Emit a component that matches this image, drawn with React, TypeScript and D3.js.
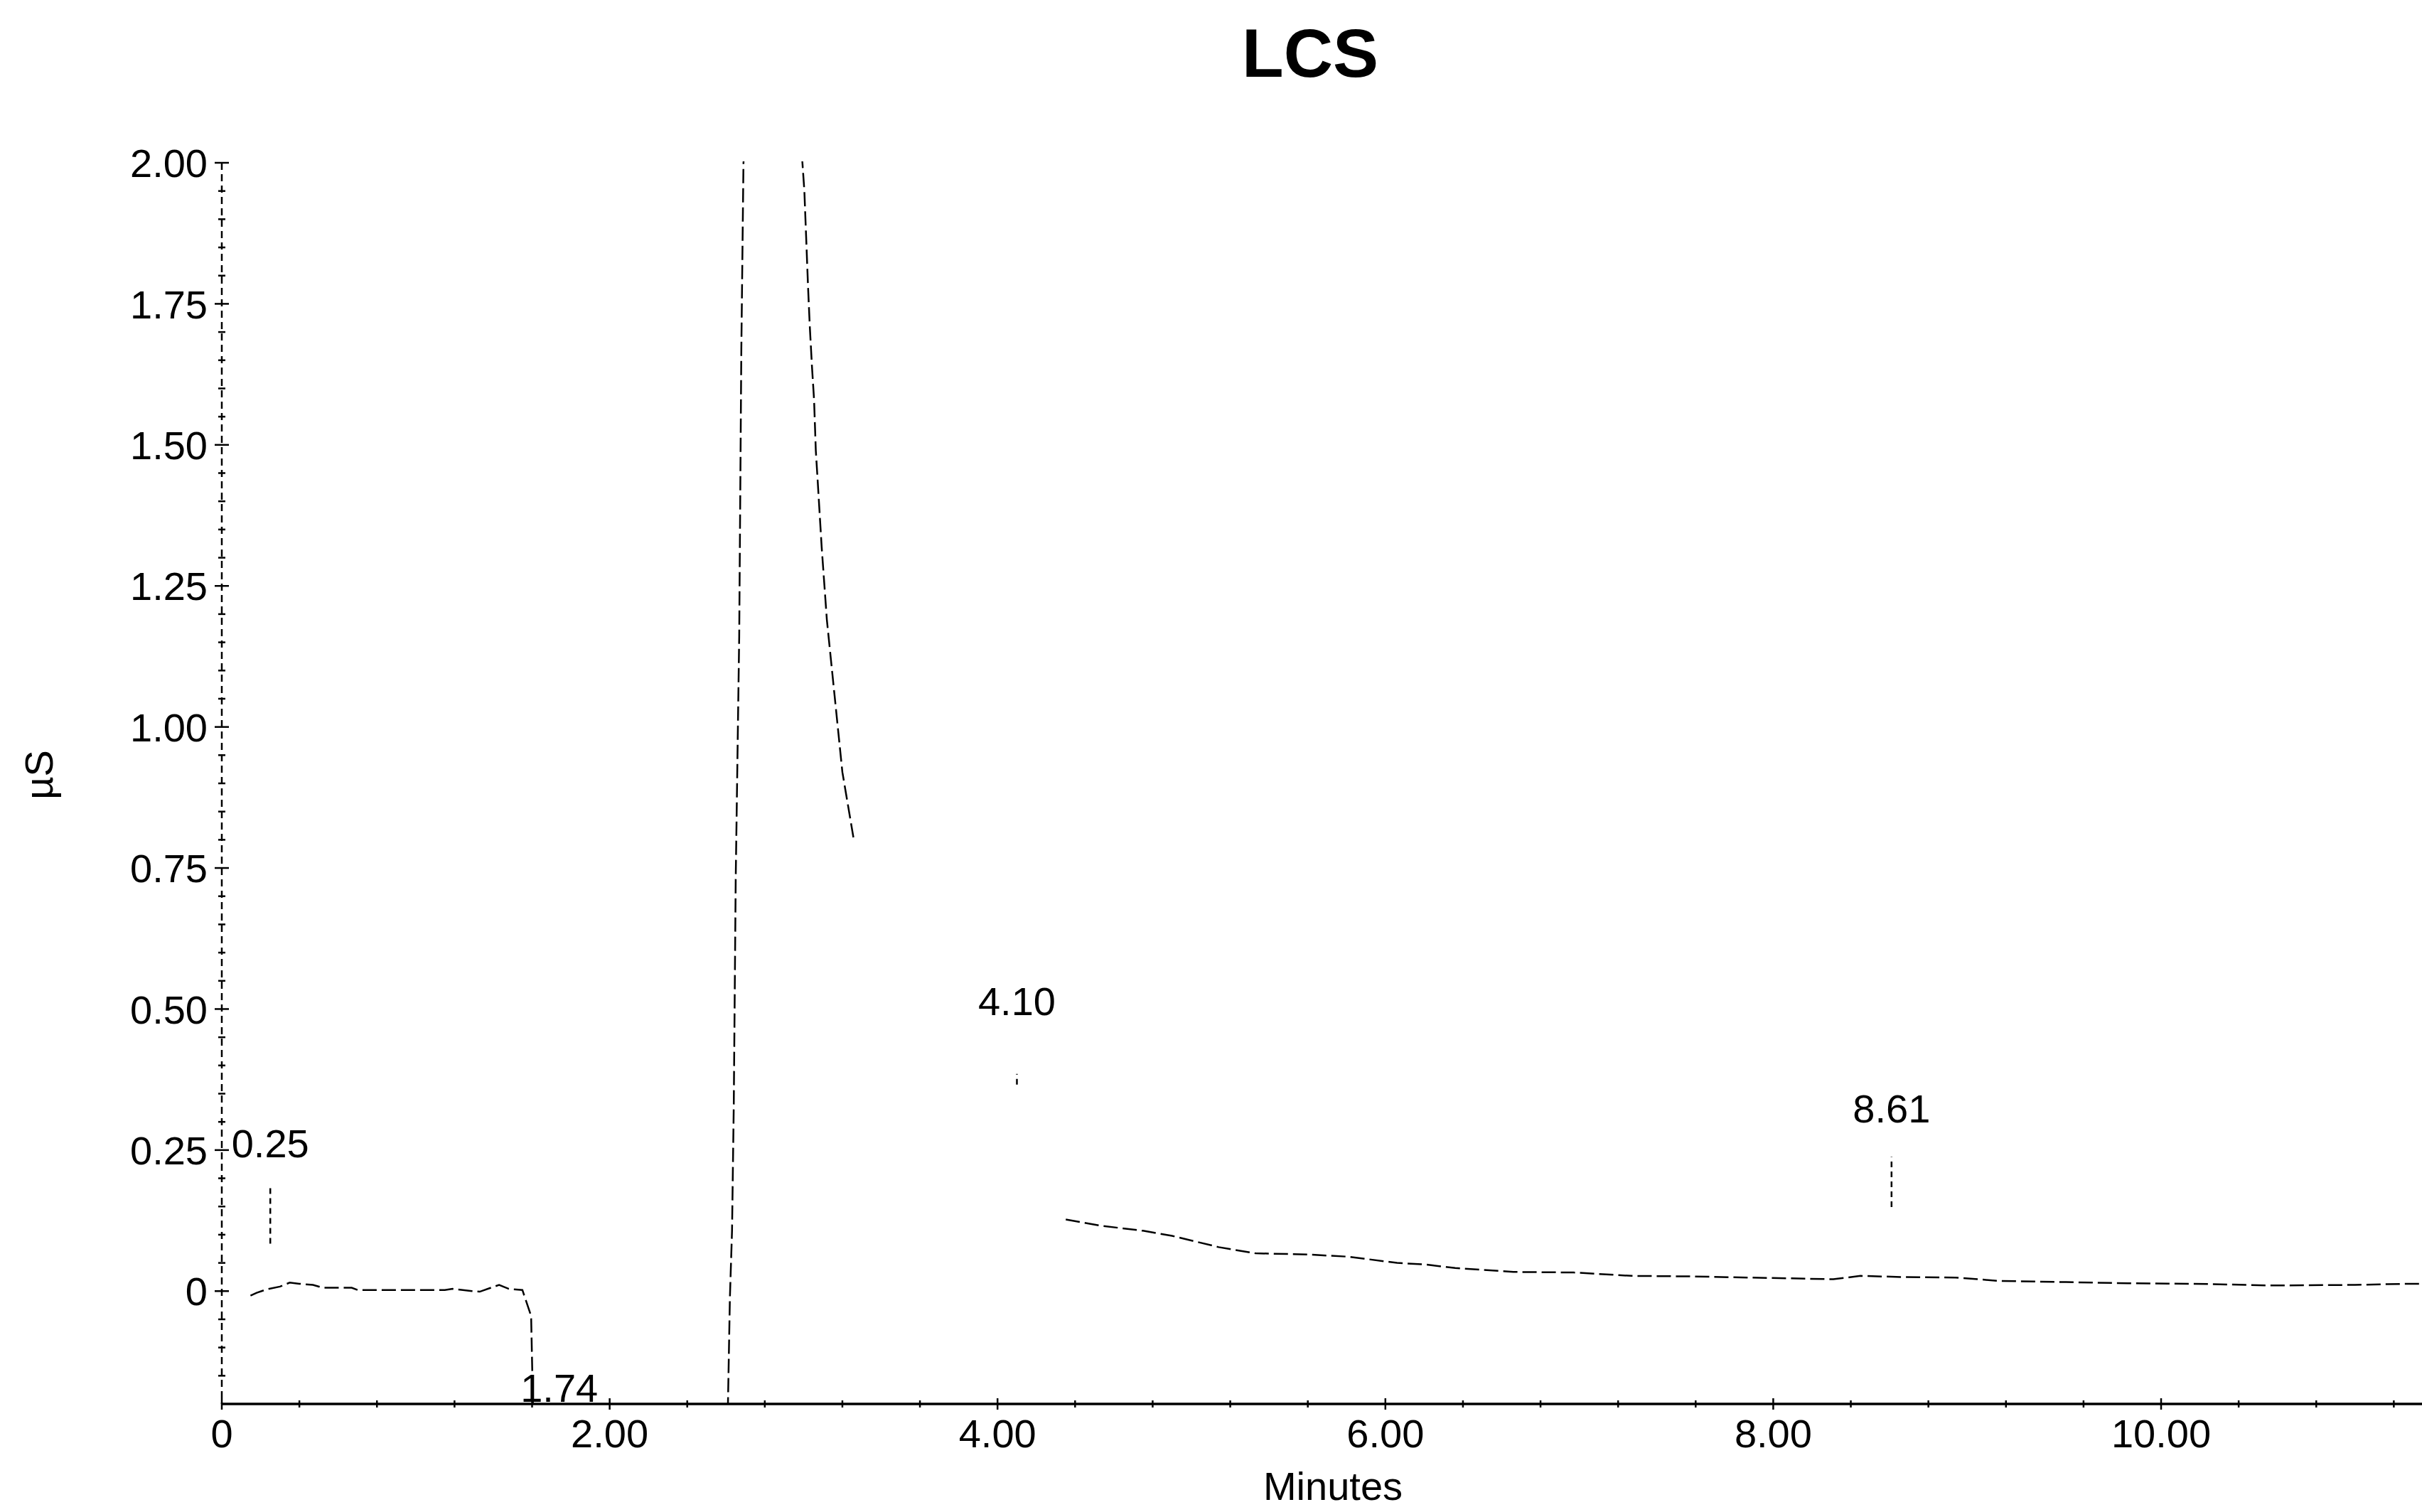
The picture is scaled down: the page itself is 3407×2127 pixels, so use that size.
import React from "react";
import * as d3 from "d3";

const W = 3407;
const H = 2127;

const chartTitle = "LCS";
const xAxisTitle = "Minutes";
const yAxisTitle = "µS";

// Chromatogram trace (minutes, µS); NaN = trace not visible in the source
const traceTime = [
  0.148, 0.18, 0.23, 0.3, 0.35, 0.4, 0.47, 0.52, 0.67, 0.7, 1.15, 1.19, 1.29, 1.33, 1.38, 1.43, 1.48,
  1.55, 1.595, 1.6, 1.605, 1.74, 2.5, 2.61, 2.62, 2.631, 2.64, 2.65, 2.668, 2.679, 2.69, 2.85, 2.994, 3.004,
  3.013, 3.023, 3.032, 3.043, 3.054, 3.063, 3.072, 3.093, 3.12, 3.2, 3.259, 3.8, 4.352, 4.53, 4.75,
  4.9, 5.14, 5.33, 5.6, 5.81, 6.06, 6.21, 6.36, 6.66, 6.97, 7.27, 7.58, 8.03, 8.31, 8.45, 8.66, 8.94,
  9.17, 9.51, 9.83, 10.25, 10.57, 11.0, 11.27, 11.36,
];
const traceSignal = [
  -0.008, -0.003, 0.003, 0.008, 0.015, 0.013, 0.011, 0.006, 0.006, 0.002, 0.002, 0.004, 0.0, -0.001,
  0.005, 0.011, 0.004, 0.002, -0.044, -0.126, -0.21, -0.3, -0.25, -0.2, -0.012, 0.107, 0.33, 0.73, 1.16, 1.67,
  2.0, 2.6, 2.0, 1.95, 1.87, 1.78, 1.71, 1.64, 1.58, 1.49, 1.44, 1.32, 1.19, 0.92, 0.8, NaN, 0.127,
  0.116, 0.107, 0.098, 0.078, 0.067, 0.065, 0.061, 0.05, 0.047, 0.041, 0.034, 0.033, 0.027, 0.026,
  0.023, 0.021, 0.027, 0.025, 0.024, 0.018, 0.016, 0.014, 0.0125, 0.01, 0.011, 0.013, 0.013,
];

// Peak retention-time labels
const peakTimes = [0.25, 1.74, 4.1, 8.61];
const peakLabels = ["0.25", "1.74", "4.10", "8.61"];
const peakLabelLevel = [0.237, -0.196, 0.489, 0.299];

// Peak marker drop-lines
const markerTimes = [0.25, 4.1, 8.61];
const markerLow = [0.084, 0.366, 0.149];
const markerHigh = [0.184, 0.385, 0.238];

const xMajorTicks = [0, 2, 4, 6, 8, 10];
const xTickLabels = ["0", "2.00", "4.00", "6.00", "8.00", "10.00"];
const yMajorTicks = [0, 0.25, 0.5, 0.75, 1.0, 1.25, 1.5, 1.75, 2.0];
const yTickLabels = ["0", "0.25", "0.50", "0.75", "1.00", "1.25", "1.50", "1.75", "2.00"];
const xMinorStep = 0.4;
const yMinorStep = 0.05;

const FONT = "'Liberation Sans', Arial, Helvetica, sans-serif";

export default function App() {
  const x = d3.scaleLinear().domain([0, 12]).range([312, 312 + 12 * 272.8]);
  const y = d3.scaleLinear().domain([-0.2, 2.0]).range([1975, 229]);

  const pts = traceTime.map((t, i) => [t, traceSignal[i]] as [number, number]);
  const line = d3
    .line<[number, number]>()
    .defined((d) => !Number.isNaN(d[1]))
    .x((d) => x(d[0]))
    .y((d) => y(d[1]));

  const xMinor = d3
    .range(0, 12.001, xMinorStep)
    .filter((v) => xMajorTicks.every((m) => Math.abs(m - v) > 1e-6));
  const yMinor = d3
    .range(-0.15, 2.0, yMinorStep)
    .filter((v) => yMajorTicks.every((m) => Math.abs(m - v) > 1e-6));

  const [x0] = x.range();
  const [yb, yt] = y.range();

  return (
    <svg
      width={W}
      height={H}
      viewBox={`0 0 ${W} ${H}`}
      style={{ position: "absolute", left: 0, top: 0, background: "#fff" }}
      fontFamily={FONT}
    >
      <defs>
        <clipPath id="plot">
          <rect x={x0} y={yt - 2} width={W - x0} height={yb - yt + 2} />
        </clipPath>
      </defs>
      <rect x={0} y={0} width={W} height={H} fill="#fff" />

      {/* title */}
      <text x={1843} y={108} textAnchor="middle" fontSize={96} fontWeight="bold" fill="#000">
        {chartTitle}
      </text>

      {/* y axis */}
      <line x1={x0} x2={x0} y1={yt} y2={yb} stroke="#000" strokeWidth={2.5} strokeDasharray="10 6" />
      {yMajorTicks.map((v, i) => (
        <g key={`ym${i}`}>
          <line x1={x0 - 10} x2={x0 + 10} y1={y(v)} y2={y(v)} stroke="#000" strokeWidth={2.5} />
          <text x={292} y={y(v)} dy="0.36em" textAnchor="end" fontSize={56} fill="#000">
            {yTickLabels[i]}
          </text>
        </g>
      ))}
      {yMinor.map((v, i) => (
        <line key={`yn${i}`} x1={x0 - 5} x2={x0 + 5} y1={y(v)} y2={y(v)} stroke="#000" strokeWidth={2.5} />
      ))}
      <text
        transform={`translate(74, 1090) rotate(-90)`}
        textAnchor="middle"
        fontSize={56}
        fill="#000"
      >
        {yAxisTitle}
      </text>

      {/* x axis */}
      <line x1={x0} x2={W} y1={yb} y2={yb} stroke="#000" strokeWidth={3.5} />
      {xMajorTicks.map((v, i) => (
        <g key={`xm${i}`}>
          <line x1={x(v)} x2={x(v)} y1={yb - 8} y2={yb + 8} stroke="#000" strokeWidth={2.5} />
          <text x={x(v)} y={2036} textAnchor="middle" fontSize={56} fill="#000">
            {xTickLabels[i]}
          </text>
        </g>
      ))}
      {xMinor.map((v, i) => (
        <line key={`xn${i}`} x1={x(v)} x2={x(v)} y1={yb - 5} y2={yb + 5} stroke="#000" strokeWidth={2.5} />
      ))}
      <text x={1875} y={2110} textAnchor="middle" fontSize={56} fill="#000">
        {xAxisTitle}
      </text>

      {/* trace */}
      <g clipPath="url(#plot)">
        <path d={line(pts) ?? ""} fill="none" stroke="#000" strokeWidth={2.5} strokeDasharray="20 7" />
      </g>

      {/* peak markers */}
      {markerTimes.map((t, i) => (
        <line
          key={`mk${i}`}
          x1={x(t)}
          x2={x(t)}
          y1={y(markerLow[i])}
          y2={y(markerHigh[i])}
          stroke="#000"
          strokeWidth={2.5}
          strokeDasharray="8 6"
        />
      ))}

      {/* peak labels */}
      {peakTimes.map((t, i) => (
        <text key={`pl${i}`} x={x(t)} y={y(peakLabelLevel[i])} textAnchor="middle" fontSize={56} fill="#000">
          {peakLabels[i]}
        </text>
      ))}
    </svg>
  );
}
